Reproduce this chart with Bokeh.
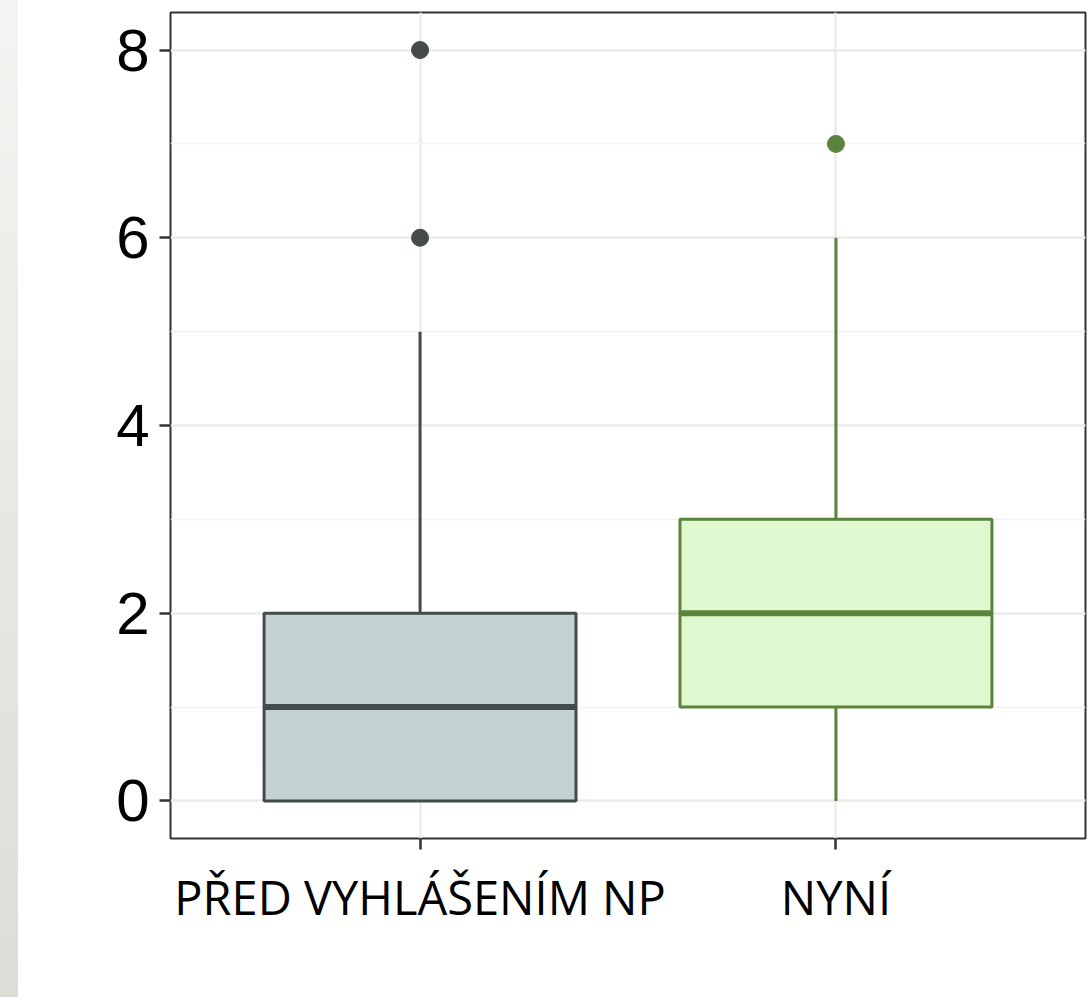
from bokeh.plotting import figure
from bokeh.models import (Range1d, FixedTicker, SingleIntervalTicker, Div, ColumnDataSource)
from bokeh.layouts import row
from bokeh.embed import file_html
from bokeh.resources import INLINE

# ---- data ----
categories = ["PŘED VYHLÁŠENÍM NP", "NYNÍ"]
q1 = [0, 1]
median = [1, 2]
q3 = [2, 3]
whisker_low = [0, 0]
whisker_high = [5, 6]
outlier_group = ["PŘED VYHLÁŠENÍM NP", "PŘED VYHLÁŠENÍM NP", "NYNÍ"]
outlier_value = [6, 8, 7]
y_ticks = [0, 2, 4, 6, 8]

line_colors = ["#434b4b", "#5a833b"]
fill_colors = ["#c4d2d3", "#e0f8d0"]
BOX_W = 0.75

xpos = {c: i + 1 for i, c in enumerate(categories)}
xs = [xpos[c] for c in categories]

p = figure(width=1072, height=988, output_backend="svg", toolbar_location=None,
           x_range=Range1d(0.4, 2.6), y_range=Range1d(-0.4, 8.4),
           min_border_left=152, min_border_right=5, min_border_top=12, min_border_bottom=150)
p.background_fill_color = "white"
p.border_fill_color = "white"
p.outline_line_color = "#333333"
p.outline_line_width = 2

# grids
p.xgrid.ticker = FixedTicker(ticks=xs)
p.xgrid.grid_line_color = "#ebebeb"
p.xgrid.grid_line_width = 2.5
p.yaxis.ticker = SingleIntervalTicker(interval=2, num_minor_ticks=2)
p.ygrid.grid_line_color = "#ebebeb"
p.ygrid.grid_line_width = 2.5
p.ygrid.minor_grid_line_color = "#f2f2f2"
p.ygrid.minor_grid_line_width = 1.5

# axes
p.xaxis.ticker = FixedTicker(ticks=xs)
p.xaxis.major_label_overrides = {xpos[c]: c for c in categories}
for ax in (p.xaxis, p.yaxis):
    ax.axis_line_color = None
    ax.major_tick_line_color = "#333333"
    ax.major_tick_line_width = 2.5
    ax.major_tick_out = 11
    ax.major_tick_in = 0
    ax.minor_tick_line_color = None
    ax.major_label_text_color = "black"
p.yaxis.major_label_text_font = "Liberation Sans"
p.yaxis.major_label_text_font_size = "60px"
p.yaxis.major_label_standoff = 10
p.xaxis.major_label_text_font = "Open Sans"
p.xaxis.major_label_text_font_size = "47px"
p.xaxis.major_label_standoff = 15

# boxes
src = ColumnDataSource(dict(
    x=xs, q1=q1, q3=q3, med=median, lo=whisker_low, hi=whisker_high,
    x0=[x - BOX_W / 2 for x in xs], x1=[x + BOX_W / 2 for x in xs],
    lc=line_colors, fc=fill_colors))

p.segment(x0="x", x1="x", y0="q3", y1="hi", source=src, line_color="lc", line_width=3)
p.segment(x0="x", x1="x", y0="lo", y1="q1", source=src, line_color="lc", line_width=3)
p.vbar(x="x", width=BOX_W, bottom="q1", top="q3", source=src,
       fill_color="fc", line_color="lc", line_width=3)
p.segment(x0="x0", x1="x1", y0="med", y1="med", source=src, line_color="lc", line_width=6)

# outliers
ocol = [line_colors[categories.index(g)] for g in outlier_group]
p.scatter([xpos[g] for g in outlier_group], outlier_value, size=17,
          fill_color=ocol, line_color=ocol)

strip = Div(width=26, height=1005, margin=(-8, 0, 0, -8),
            styles={"background": "linear-gradient(#f4f4f2, #dcddd6)"})
layout = row(strip, p, spacing=0)

open("out.html", "w").write(file_html(layout, INLINE))
